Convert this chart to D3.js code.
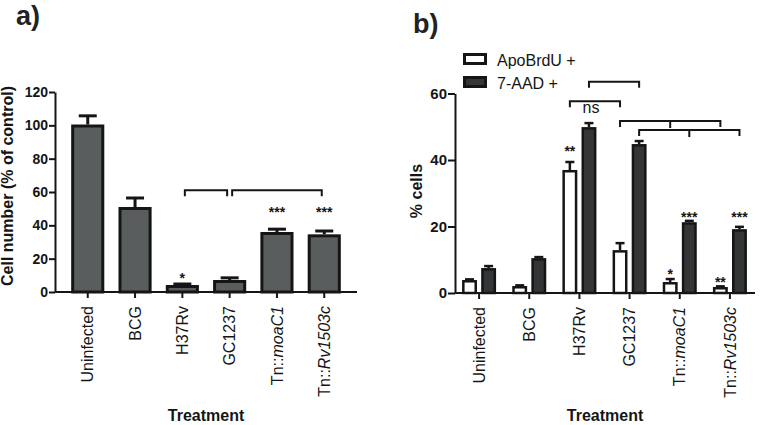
<!DOCTYPE html>
<html>
<head>
<meta charset="utf-8">
<script src="https://cdn.jsdelivr.net/npm/d3@7"></script>
<style>
  body { margin: 0; background: #fff; }
  svg { display: block; font-family: "Liberation Sans", Arial, sans-serif; }
</style>
</head>
<body>
<svg id="chart" width="766" height="425"></svg>
<script>
// treatments shared by both panels; italic part of each label (strain names)
const treatments = ["Uninfected", "BCG", "H37Rv", "GC1237", "Tn::moaC1", "Tn::Rv1503c"];
const italicParts = ["", "", "", "", "moaC1", "Rv1503c"];

// panel a: cell number (% of control)
const cellNumber = [100.5, 51, 4.2, 7.2, 36, 34.6];
const cellNumberErr = [5.2, 5.4, 0.6, 1.3, 1.7, 2.0];
const ticksA = [0, 20, 40, 60, 80, 100, 120];

// panel b: % cells
const seriesB = ["ApoBrdU +", "7-AAD +"];
const apoBrdU = [3.9, 2.1, 37, 12.9, 3.3, 1.8];
const apoBrdUErr = [0.2, 0.2, 2.4, 2.1, 0.9, 0.2];
const aad = [7.5, 10.5, 49.9, 44.8, 21.3, 19.2];
const aadErr = [0.6, 0.3, 1.2, 0.9, 0.4, 0.7];
const ticksB = [0, 20, 40, 60];

// significance marks: [treatment, series index (b only), label, value of mark centre]
const starsA = [["H37Rv", "*", 10.2], ["Tn::moaC1", "***", 49.8], ["Tn::Rv1503c", "***", 50.2]];
const starsB = [
  ["H37Rv", 0, "**", 43.6], ["H37Rv", 1, "ns", 55.5],
  ["Tn::moaC1", 0, "*", 6.6], ["Tn::moaC1", 1, "***", 24],
  ["Tn::Rv1503c", 0, "**", 4.2], ["Tn::Rv1503c", 1, "***", 24]
];
// brackets: [from, to, middle or null, level]
const bracketsA = [["H37Rv", "GC1237", null, 61], ["GC1237", "Tn::Rv1503c", null, 61]];
// panel b: [from treatment, to treatment, middle treatment, series index, level]
const bracketsB = [
  ["H37Rv", "GC1237", null, 1, 63.5],
  ["H37Rv", "GC1237", null, 0, 57.7],
  ["GC1237", "Tn::Rv1503c", "Tn::moaC1", 0, 51.7],
  ["GC1237", "Tn::Rv1503c", "Tn::moaC1", 1, 49.0]
];

const ink = "#151515";
const svg = d3.select("#chart");

function styleYAxis(sel, fontSize) {
  sel.attr("font-family", null).attr("font-size", fontSize).attr("font-weight", "bold");
  sel.select(".domain").attr("stroke", ink).attr("stroke-width", 2);
  sel.selectAll(".tick line").attr("stroke", ink).attr("stroke-width", 2);
  sel.selectAll(".tick text").attr("fill", ink);
}

function drawXAxis(g, x, y, x0, x1) {
  const ax = g.append("g")
    .attr("transform", `translate(0,${y(0)})`)
    .call(d3.axisBottom(x).tickSize(6).tickSizeOuter(0));
  ax.attr("font-family", null).attr("font-size", 16);
  ax.select(".domain").remove();
  ax.append("line").attr("x1", x0).attr("x2", x1)
    .attr("stroke", ink).attr("stroke-width", 2);
  ax.selectAll(".tick line").attr("stroke", ink).attr("stroke-width", 2);
  ax.selectAll(".tick text")
    .attr("fill", ink)
    .attr("transform", "rotate(-90)")
    .attr("text-anchor", "end")
    .attr("x", -14).attr("y", 0).attr("dy", "0.35em")
    .each(function (d) {
      const i = treatments.indexOf(d);
      const t = d3.select(this).text("");
      const it = italicParts[i];
      t.append("tspan").text(it ? d.slice(0, d.length - it.length) : d);
      if (it) t.append("tspan").attr("font-style", "italic").text(it);
    });
}

function drawBracket(g, xa, xb, xm, yy) {
  const p = d3.path();
  p.moveTo(xa, yy + 6); p.lineTo(xa, yy); p.lineTo(xb, yy); p.lineTo(xb, yy + 6);
  if (xm !== null) { p.moveTo(xm, yy); p.lineTo(xm, yy + 7); }
  g.append("path").attr("d", p.toString()).attr("fill", "none")
    .attr("stroke", ink).attr("stroke-width", 2);
}

function starText(g, cx, cy, label) {
  const ns = label === "ns";
  g.append("text").attr("x", cx).attr("y", cy)
    .attr("dy", ns ? "0.3em" : "0.6em")
    .attr("text-anchor", "middle")
    .attr("font-size", ns ? 16 : 14)
    .attr("font-weight", ns ? "normal" : "bold")
    .attr("fill", ink).text(label);
}

// ---------- panel a ----------
{
  const g = svg.append("g");
  const axisX = 55;
  const x = d3.scaleBand().domain(treatments).range([57, 355]).padding(0.3);
  const y = d3.scaleLinear().domain([0, 120]).range([292, 92]);

  g.append("g").attr("transform", `translate(${axisX},0)`)
    .call(d3.axisLeft(y).tickValues(ticksA).tickSize(6).tickSizeOuter(0).tickPadding(1))
    .call(s => styleYAxis(s, 14));

  const bw = x.bandwidth();
  // error bars (upper only)
  treatments.forEach((t, i) => {
    const cx = x(t) + bw / 2;
    const top = y(cellNumber[i] + cellNumberErr[i]);
    g.append("line").attr("x1", cx).attr("x2", cx)
      .attr("y1", y(cellNumber[i])).attr("y2", top)
      .attr("stroke", ink).attr("stroke-width", 3);
    g.append("line").attr("x1", cx - 9).attr("x2", cx + 9)
      .attr("y1", top).attr("y2", top)
      .attr("stroke", ink).attr("stroke-width", 3);
  });

  g.selectAll("rect.bar").data(treatments).join("rect")
    .attr("class", "bar")
    .attr("x", d => x(d) + 1.5)
    .attr("width", bw - 3)
    .attr("y", (d, i) => y(cellNumber[i]) + 1.5)
    .attr("height", (d, i) => y(0) - y(cellNumber[i]) - 1.5)
    .attr("fill", "#5a5d5e").attr("stroke", ink).attr("stroke-width", 3);

  drawXAxis(g, x, y, axisX, 357);

  bracketsA.forEach(([a, b, m, lv]) => {
    drawBracket(g, x(a) + bw / 2 + 2.5, x(b) + bw / 2 - 2.5,
      m ? x(m) + bw / 2 : null, y(lv));
  });
  starsA.forEach(([t, lab, v]) => starText(g, x(t) + bw / 2, y(v), lab));

  g.append("text").attr("transform", `translate(13,186) rotate(-90)`)
    .attr("text-anchor", "middle").attr("font-size", 16).attr("font-weight", "bold")
    .attr("fill", ink).text("Cell number (% of control)");
  g.append("text").attr("x", 206).attr("y", 421).attr("text-anchor", "middle")
    .attr("font-size", 16).attr("font-weight", "bold").attr("fill", ink).text("Treatment");
  g.append("text").attr("x", 16).attr("y", 25).attr("font-size", 27)
    .attr("font-weight", "bold").attr("fill", "#222").text("a)");
}

// ---------- panel b ----------
{
  const g = svg.append("g");
  const axisX = 455;
  const x = d3.scaleBand().domain(treatments).range([454, 755]);
  const x1 = d3.scaleBand().domain([0, 1]).range([-17, 17]).paddingInner(0.22);
  const y = d3.scaleLinear().domain([0, 60]).range([293, 93.5]);
  const vals = [apoBrdU, aad];
  const errs = [apoBrdUErr, aadErr];
  const fills = ["#ffffff", "#333536"];
  const cx = (t, s) => x(t) + x.bandwidth() / 2 + x1(s) + x1.bandwidth() / 2;

  g.append("g").attr("transform", `translate(${axisX},0)`)
    .call(d3.axisLeft(y).tickValues(ticksB).tickSize(7).tickSizeOuter(0).tickPadding(1))
    .call(s => styleYAxis(s, 15));

  const bars = [];
  treatments.forEach((t, i) => [0, 1].forEach(s => bars.push({ t, s, v: vals[s][i], e: errs[s][i] })));

  bars.forEach(d => {
    const c = cx(d.t, d.s);
    const top = y(d.v + d.e);
    g.append("line").attr("x1", c).attr("x2", c).attr("y1", y(d.v)).attr("y2", top)
      .attr("stroke", ink).attr("stroke-width", 2.5);
    g.append("line").attr("x1", c - 4.5).attr("x2", c + 4.5).attr("y1", top).attr("y2", top)
      .attr("stroke", ink).attr("stroke-width", 2.5);
  });

  const bw = x1.bandwidth();
  g.selectAll("rect.bar").data(bars).join("rect")
    .attr("class", "bar")
    .attr("x", d => cx(d.t, d.s) - bw / 2 + 1.25)
    .attr("width", bw - 2.5)
    .attr("y", d => y(d.v) + 1.25)
    .attr("height", d => y(0) - y(d.v) - 1.25)
    .attr("fill", d => fills[d.s]).attr("stroke", ink).attr("stroke-width", 2.5);

  drawXAxis(g, x, y, axisX, 755);

  bracketsB.forEach(([a, b, m, s, lv]) => {
    drawBracket(g, cx(a, s), cx(b, s), m ? cx(m, s) : null, y(lv));
  });
  starsB.forEach(([t, s, lab, v]) => {
    const c = lab === "ns" ? (cx(t, 0) + cx("GC1237", 0)) / 2 - 4 : cx(t, s);
    starText(g, c, y(v), lab);
  });

  // legend
  const leg = g.append("g");
  seriesB.forEach((name, s) => {
    const ly = 53 + s * 23;
    leg.append("rect").attr("x", 464.5).attr("y", ly + 1.5).attr("width", 21).attr("height", 9)
      .attr("fill", fills[s]).attr("stroke", ink).attr("stroke-width", 3);
    leg.append("text").attr("x", 497).attr("y", ly + 12.5).attr("font-size", 16)
      .attr("fill", ink).text(name);
  });

  g.append("text").attr("transform", `translate(422,191) rotate(-90)`)
    .attr("text-anchor", "middle").attr("font-size", 16).attr("font-weight", "bold")
    .attr("fill", ink).text("% cells");
  g.append("text").attr("x", 605).attr("y", 421).attr("text-anchor", "middle")
    .attr("font-size", 16).attr("font-weight", "bold").attr("fill", ink).text("Treatment");
  g.append("text").attr("x", 413).attr("y", 33).attr("font-size", 27)
    .attr("font-weight", "bold").attr("fill", "#222").text("b)");
}
</script>
</body>
</html>
